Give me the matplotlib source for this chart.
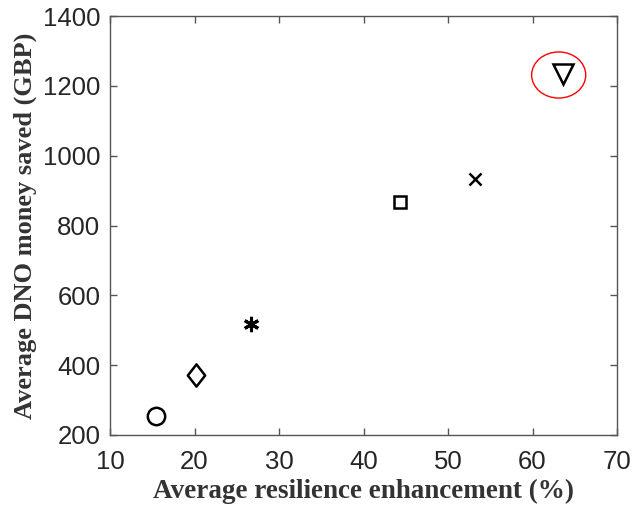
import matplotlib
matplotlib.use("Agg")
import matplotlib.pyplot as plt
from matplotlib.patches import Ellipse
from matplotlib.path import Path

x_vals = [15.5, 20.2, 26.7, 44.3, 53.2, 63.6]
y_vals = [254, 373, 518, 868, 933, 1234]
markers = ['o', 'D', '*', 's', 'x', 'v']
msizes = [12.5, 16, 11, 9, 9, 14]
xticks = [10, 20, 30, 40, 50, 60, 70]
yticks = [200, 400, 600, 800, 1000, 1200, 1400]

diamond = Path([(0, 1), (0.78, 0), (0, -1), (-0.78, 0), (0, 1)],
               [Path.MOVETO, Path.LINETO, Path.LINETO, Path.LINETO, Path.CLOSEPOLY])

fig = plt.figure(figsize=(6.34, 5.12), dpi=100)
L, R, T, B = 110, 617, 16, 435
ax = fig.add_axes([L/634, 1-B/512, (R-L)/634, (B-T)/512])

for xv, yv, m, s in zip(x_vals, y_vals, markers, msizes):
    if m == '*':
        ax.plot(xv, yv, marker=(6, 2, 0), markersize=s, markeredgewidth=2.2,
                color='black', linestyle='none')
    elif m == 'D':
        ax.plot(xv, yv, marker=diamond, markersize=s, markeredgewidth=1.8,
                markerfacecolor='none', markeredgecolor='black', linestyle='none')
    else:
        ax.plot(xv, yv, marker=m, markersize=s, markeredgewidth=1.8,
                markerfacecolor='none', markeredgecolor='black', linestyle='none')

ax.add_patch(Ellipse((63.1, 1231), 6.4, 132, fill=False, edgecolor='red', linewidth=1.0))

ax.set_xlim(10, 70)
ax.set_ylim(200, 1400)
ax.set_xticks(xticks)
ax.set_yticks(yticks)
ax.tick_params(direction='in', top=True, right=True, length=5, width=1,
               color='#555555', labelcolor='#262626', labelsize=18.5)
ax.tick_params(axis='x', pad=11)
ax.tick_params(axis='y', pad=7)
for lab in ax.get_xticklabels() + ax.get_yticklabels():
    lab.set_family(['Liberation Sans'])
for sp in ax.spines.values():
    sp.set_color('#555555')
    sp.set_linewidth(1)

ax.set_xlabel('Average resilience enhancement (%)', family='Liberation Serif',
              fontweight='bold', fontsize=19.5, color='#333333', labelpad=3)
ax.set_ylabel('Average DNO money saved (GBP)', family='Liberation Serif',
              fontweight='bold', fontsize=19, color='#333333', labelpad=4)

fig.savefig('out.png', dpi=100)
